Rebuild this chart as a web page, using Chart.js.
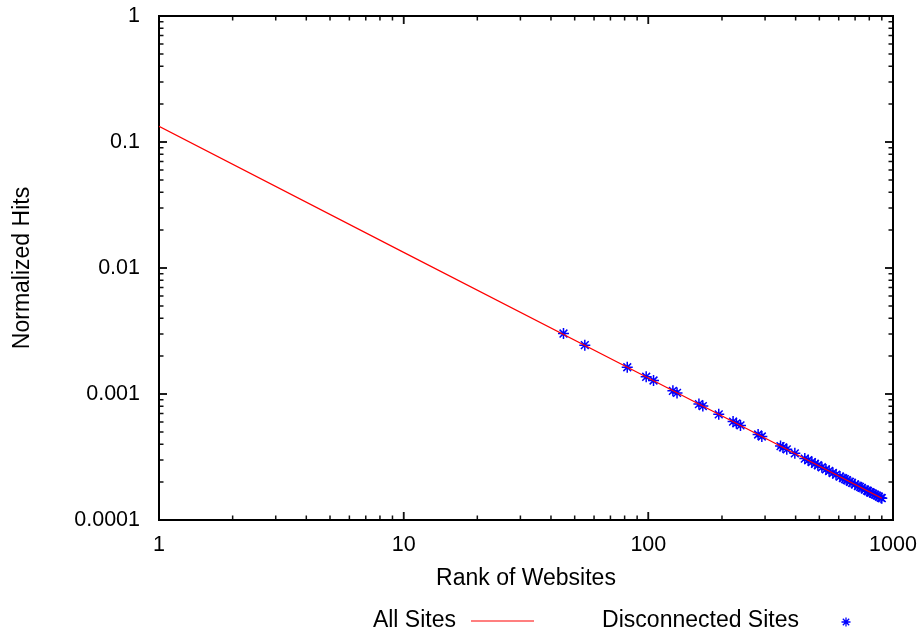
<!DOCTYPE html>
<html><head><meta charset="utf-8">
<script src="https://cdn.jsdelivr.net/npm/chart.js@4.4.1/dist/chart.umd.min.js"></script>
<style>html,body{margin:0;padding:0;background:#fff}#wrap{width:923px;height:633px}canvas{display:block}</style>
</head><body><div id="wrap"><canvas id="c" width="923" height="633"></canvas></div>
<script>
const seriesNames = ['All Sites', 'Disconnected Sites'];
const xTitle = 'Rank of Websites';
const yTitle = 'Normalized Hits';
const xTickValues = [1, 10, 100, 1000];
const xTickLabels = ['1', '10', '100', '1000'];
const yTickValues = [0.0001, 0.001, 0.01, 0.1, 1];
const yTickLabels = ['0.0001', '0.001', '0.01', '0.1', '1'];

const allSitesRank = [1, 10, 100, 900];
const allSitesHits = [0.133, 0.0133, 0.00134, 0.000149];

const discRank = [45, 55, 82, 98, 105, 126, 131, 161, 167, 194, 222, 229, 238, 281, 291, 347, 355, 368, 397, 436,
  450, 466, 480, 493, 512, 532, 548, 568, 585, 607, 624, 636, 648, 667, 680, 699, 719, 733, 746, 768,
  783, 790, 805, 812, 828, 844, 860, 876, 893, 900];
const discHits = [0.00302, 0.00244, 0.00163, 0.00137, 0.00128, 0.00106, 0.00102, 0.000832, 0.000802, 0.000690,
  0.000604, 0.000585, 0.000563, 0.000477, 0.000460, 0.000386, 0.000377, 0.000364, 0.000338, 0.000307,
  0.000298, 0.000288, 0.000279, 0.000272, 0.000262, 0.000252, 0.000245, 0.000236, 0.000229, 0.000221,
  0.000215, 0.000211, 0.000207, 0.000201, 0.000197, 0.000192, 0.000186, 0.000183, 0.000180, 0.000174,
  0.000171, 0.000170, 0.000166, 0.000165, 0.000162, 0.000159, 0.000156, 0.000153, 0.000150, 0.000149];

const FONT = '"Liberation Sans", Arial, sans-serif';
const TICK_SIZE = 21.5;
const TITLE_SIZE = 23;

function minorValues(lo, hi) {
  const out = [];
  for (let d = lo; d < hi * 0.999; d *= 10) {
    for (let k = 1; k <= 10; k++) out.push({v: +(k * d).toPrecision(6), major: k === 1 || k === 10});
  }
  return out;
}

function noPad(s) {
  s.paddingLeft = 0; s.paddingRight = 0; s.paddingTop = 0; s.paddingBottom = 0;
}

const frameTicks = {
  id: 'frameTicks',
  beforeDatasetsDraw(chart) {
    const {ctx, chartArea: a, scales} = chart;
    ctx.save();
    ctx.strokeStyle = '#111';
    ctx.lineWidth = 1.5;
    const xs = scales.x, ys = scales.y;
    minorValues(xTickValues[0], xTickValues[xTickValues.length - 1]).forEach(t => {
      const px = xs.getPixelForValue(t.v);
      const L = t.major ? 8 : 4.5;
      ctx.beginPath();
      ctx.moveTo(px, a.bottom); ctx.lineTo(px, a.bottom - L);
      ctx.moveTo(px, a.top); ctx.lineTo(px, a.top + L);
      ctx.stroke();
    });
    minorValues(yTickValues[0], yTickValues[yTickValues.length - 1]).forEach(t => {
      const py = ys.getPixelForValue(t.v);
      const L = t.major ? 8 : 4.5;
      ctx.beginPath();
      ctx.moveTo(a.left, py); ctx.lineTo(a.left + L, py);
      ctx.moveTo(a.right, py); ctx.lineTo(a.right - L, py);
      ctx.stroke();
    });
    ctx.lineWidth = 2;
    ctx.strokeStyle = '#000';
    ctx.strokeRect(a.left, a.top, a.right - a.left, a.bottom - a.top);
    ctx.restore();
  },
  afterDraw(chart) {
    const ctx = chart.ctx;
    const ds = chart.data.datasets;
    ctx.save();
    ctx.font = TITLE_SIZE + 'px ' + FONT;
    ctx.fillStyle = '#000';
    ctx.textAlign = 'right';
    ctx.textBaseline = 'middle';
    const ly = 621;
    ctx.fillText(ds[0].label, 456, ly);
    ctx.strokeStyle = ds[0].borderColor;
    ctx.lineWidth = 1.2;
    ctx.beginPath(); ctx.moveTo(471, ly); ctx.lineTo(534, ly); ctx.stroke();
    ctx.fillText(ds[1].label, 799, ly);
    ctx.strokeStyle = ds[1].borderColor;
    ctx.lineWidth = 1.3;
    const cx = 846, cy = 622, r = 4.5;
    ctx.beginPath();
    for (let i = 0; i < 4; i++) {
      const ang = i * Math.PI / 4;
      ctx.moveTo(cx - r * Math.cos(ang), cy - r * Math.sin(ang));
      ctx.lineTo(cx + r * Math.cos(ang), cy + r * Math.sin(ang));
    }
    ctx.stroke();
    ctx.restore();
  }
};

new Chart(document.getElementById('c'), {
  type: 'scatter',
  data: {
    datasets: [
      {
        label: seriesNames[0],
        type: 'line',
        data: allSitesRank.map((r, i) => ({x: r, y: allSitesHits[i]})),
        borderColor: '#ff0000',
        borderWidth: 1.2,
        pointRadius: 0,
        fill: false,
        tension: 0
      },
      {
        label: seriesNames[1],
        data: discRank.map((r, i) => ({x: r, y: discHits[i]})),
        pointStyle: 'star',
        pointRadius: 5.5,
        borderColor: '#0000ff',
        backgroundColor: '#0000ff',
        pointBorderWidth: 1.5,
        borderWidth: 1.5
      }
    ]
  },
  options: {
    responsive: false,
    animation: false,
    events: [],
    layout: {padding: {left: 0, right: 30, top: 16, bottom: 0}},
    plugins: {legend: {display: false}, tooltip: {enabled: false}},
    scales: {
      x: {
        type: 'logarithmic', min: 1, max: 1000,
        grid: {display: false}, border: {display: false},
        afterBuildTicks: s => { s.ticks = xTickValues.map(v => ({value: v, major: true})); },
        afterFit: s => { s.height = 113; noPad(s); },
        ticks: {
          autoSkip: false, maxRotation: 0, padding: 4, color: '#000',
          font: {family: FONT, size: TICK_SIZE},
          callback: (v, i) => xTickLabels[i]
        },
        title: {display: true, text: xTitle, color: '#000', font: {family: FONT, size: TITLE_SIZE}, padding: {top: 0, bottom: 41}}
      },
      y: {
        type: 'logarithmic', min: 0.0001, max: 1,
        grid: {display: false}, border: {display: false},
        afterBuildTicks: s => { s.ticks = yTickValues.map(v => ({value: v, major: true})); },
        afterFit: s => { s.width = 159; noPad(s); },
        ticks: {
          autoSkip: false, padding: 11, color: '#000',
          font: {family: FONT, size: TICK_SIZE},
          callback: (v, i) => yTickLabels[i]
        },
        title: {display: true, text: yTitle, color: '#000', font: {family: FONT, size: TITLE_SIZE}, padding: {top: 9, bottom: 0}}
      }
    }
  },
  plugins: [frameTicks]
});
</script>
</body></html>
